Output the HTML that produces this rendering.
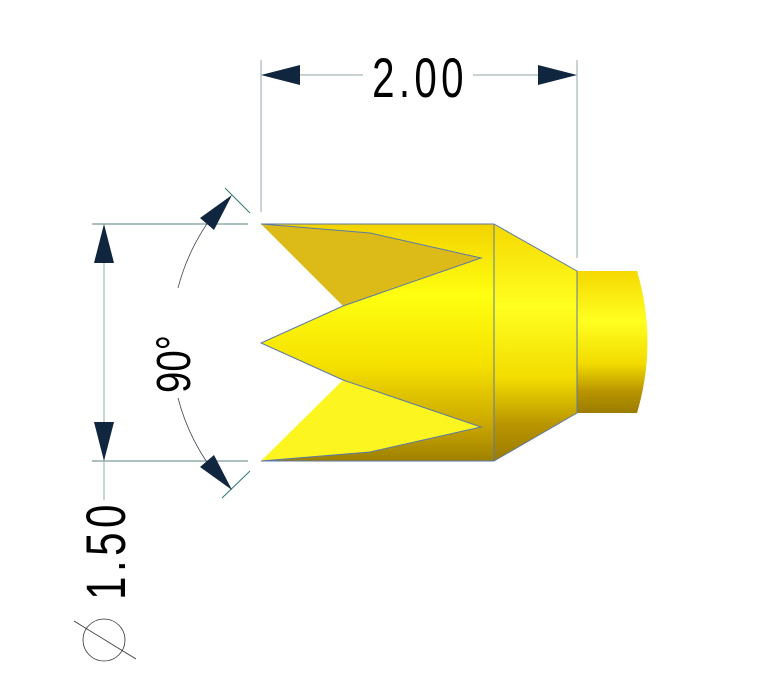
<!DOCTYPE html>
<html><head><style>html,body{margin:0;padding:0;background:#fff}svg{display:block}</style></head>
<body>
<svg width="770" height="681" viewBox="0 0 770 681" xmlns="http://www.w3.org/2000/svg">
<defs>
<linearGradient id="g1" x1="0" y1="0" x2="0" y2="1">
<stop offset="0" stop-color="#f2d200"/><stop offset="0.3" stop-color="#ffff10"/><stop offset="0.6" stop-color="#f5e000"/><stop offset="0.85" stop-color="#c9a600"/><stop offset="1" stop-color="#9e8000"/>
</linearGradient>
<linearGradient id="g2" x1="0" y1="0" x2="0" y2="1">
<stop offset="0" stop-color="#f5d800"/><stop offset="0.35" stop-color="#ffff20"/><stop offset="0.65" stop-color="#f2dc00"/><stop offset="0.85" stop-color="#b89400"/><stop offset="1" stop-color="#9a7c00"/>
</linearGradient>
</defs>
<!-- body -->
<polygon points="261,224 494,224 494,461 261,461 481,427 343,380 261,343 343,306 481,258" fill="url(#g1)"/>
<polygon points="261,224 370,233 481,258 343,306" fill="#dcbb18"/>
<polygon points="261,461 343,380 481,427 370,452" fill="#fcf520"/>
<polygon points="494,224 577,271 577,413 494,461" fill="url(#g2)"/>
<path d="M577,271 L637,271 Q658,342 637,413 L577,413 Z" fill="url(#g2)"/>
<g fill="none" stroke="#5b7aa8" stroke-width="1">
<polyline points="261,224 494,224 494,461 261,461"/>
<polyline points="261,224 370,233 481,258 343,306 261,343 343,380 481,427 370,452 261,461"/>
<polyline points="494,224 577,271 577,413 494,461"/>
</g>
<!-- dim lines -->
<g stroke="#a8b8b8" stroke-width="1.2" fill="none">
<line x1="261" y1="60" x2="261" y2="212"/>
<line x1="577" y1="60" x2="577" y2="258"/>
<line x1="300" y1="75" x2="363" y2="75"/>
<line x1="473" y1="75" x2="540" y2="75"/>
<line x1="92" y1="224" x2="248" y2="224" stroke="#7a9a9a"/>
<line x1="92" y1="461" x2="248" y2="461" stroke="#7a9a9a"/>
<line x1="104" y1="260" x2="104" y2="500"/>
</g>
<path d="M178,288 A209,209 0 0 1 218,209" fill="none" stroke="#445" stroke-width="0.8"/>
<path d="M178,398 A209,209 0 0 0 218,477" fill="none" stroke="#445" stroke-width="0.8"/>
<line x1="225" y1="188" x2="250" y2="213" stroke="#2a7a70" stroke-width="1"/>
<line x1="222" y1="498" x2="250" y2="471" stroke="#2a7a70" stroke-width="1"/>
<g fill="#10263f">
<polygon points="261,75 300,65 300,85"/>
<polygon points="577,75 538,65 538,85"/>
<polygon points="104,224 94,263 114,263"/>
<polygon points="104,461 94,422 114,422"/>
<polygon points="232,195 200,218 214,230"/>
<polygon points="232,490 200,467 214,455"/>
</g>
<g font-family="Liberation Sans, sans-serif" fill="#000">
<text transform="translate(420,97) scale(0.72,1)" font-size="56" text-anchor="middle" letter-spacing="6">2.00</text>
<text transform="translate(125,550) rotate(-90) scale(0.75,1)" font-size="56" text-anchor="middle" letter-spacing="6">1.50</text>
<text transform="translate(190,364) rotate(-90) scale(0.8,1)" font-size="48" text-anchor="middle">90°</text>
</g>
<circle cx="104" cy="640" r="21" fill="none" stroke="#333" stroke-width="0.8"/>
<line x1="74" y1="621" x2="136" y2="659" stroke="#333" stroke-width="0.8"/>
</svg>
</body></html>
